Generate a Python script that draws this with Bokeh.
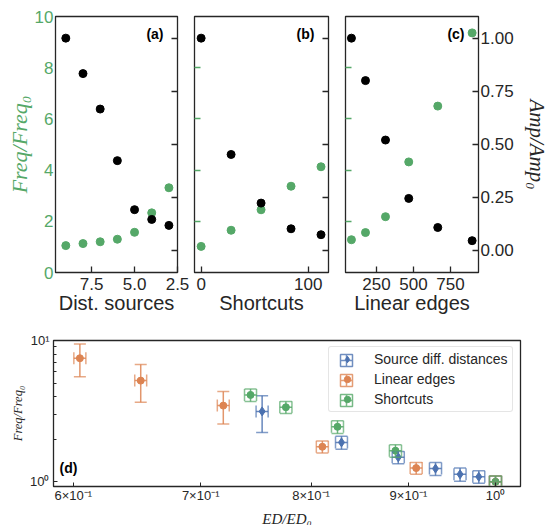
from bokeh.plotting import figure
from bokeh.models import (Range1d, LinearAxis, FixedTicker, Label, Whisker, TeeHead,
                          ColumnDataSource, Legend, LegendItem)
from bokeh.layouts import column, row
from bokeh.embed import file_html
from bokeh.resources import INLINE

# ---------------- data ----------------
dist_sources = [9, 8, 7, 6, 5, 4, 3]
dist_freq = [1.05, 1.13, 1.20, 1.30, 1.57, 2.33, 3.31]
dist_amp = [1.00, 0.833, 0.666, 0.423, 0.192, 0.146, 0.118]

shortcuts = [0, 28, 56, 84, 112]
short_freq = [1.02, 1.65, 2.45, 3.37, 4.13]
short_amp = [1.00, 0.452, 0.223, 0.102, 0.074]

linear_edges = [81, 176, 311, 468, 664, 896]
lin_freq = [1.28, 1.56, 2.18, 4.32, 6.50, 9.36]
lin_amp = [1.00, 0.80, 0.52, 0.245, 0.108, 0.046]

# panel (d): ED/ED0 vs Freq/Freq0 with errors
src_ed = [0.754, 0.830, 0.889, 0.930, 0.958, 0.980, 1.0]
src_fr = [3.15, 1.90, 1.49, 1.24, 1.13, 1.085, 1.0]
src_ed_err = [0.0055, 0.0060, 0.0065, 0.0068, 0.0070, 0.0071, 0.0073]
src_fr_err = [0.92, 0.20, 0.15, 0.13, 0.12, 0.11, 0.10]

lin_ed = [0.6048, 0.651, 0.7194, 0.811, 0.9085, 1.0]
lin_fr = [7.49, 5.20, 3.46, 1.77, 1.25, 1.0]
lin_ed_err = [0.0044, 0.0047, 0.0052, 0.0059, 0.0066, 0.0073]
lin_fr_err = [1.95, 1.55, 0.90, 0.17, 0.12, 0.10]

sc_ed = [0.7435, 0.776, 0.826, 0.886, 1.0]
sc_fr = [4.12, 3.37, 2.45, 1.66, 1.0]
sc_ed_err = [0.0054, 0.0057, 0.0060, 0.0065, 0.0073]
sc_fr_err = [0.42, 0.33, 0.25, 0.17, 0.10]

series_names = ["Source diff. distances", "Linear edges", "Shortcuts"]

d_xticks = [0.6, 0.7, 0.8, 0.9, 1]
d_xlabels = ["6\u00d710\u207b\u00b9", "7\u00d710\u207b\u00b9", "8\u00d710\u207b\u00b9",
             "9\u00d710\u207b\u00b9", "10\u2070"]
d_yticks = [1, 10]
d_ylabels = ["10\u2070", "10\u00b9"]
amp_ticks = [0, 0.25, 0.5, 0.75, 1]
amp_labels = ["0.00", "0.25", "0.50", "0.75", "1.00"]

GREEN = "#55a868"
BLUE = "#4c72b0"
ORANGE = "#dd8452"
SPINE = "#262626"
SANS = "Liberation Sans"
SERIF = "Liberation Serif"

NAN = float("nan")


def base_style(p):
    p.outline_line_color = SPINE
    p.outline_line_width = 1.3
    p.grid.visible = False
    p.background_fill_color = "white"
    p.border_fill_color = "white"


def top_panel(xr, xticks, xover, xlabel, fw, mbl, mbr, first=False, last=False, tag=""):
    p = figure(x_range=xr, y_range=Range1d(0, 10), frame_width=fw, frame_height=256,
               min_border_left=mbl, min_border_right=mbr, min_border_top=16,
               min_border_bottom=48, output_backend="svg", toolbar_location=None)
    base_style(p)
    p.extra_y_ranges = {"amp": Range1d(-0.104, 1.102)}
    # bottom axis
    xa = p.below[0]
    xa.ticker = FixedTicker(ticks=xticks)
    if xover:
        xa.major_label_overrides = xover
    xa.major_tick_in = 6
    xa.major_tick_out = 0
    xa.minor_tick_in = 0
    xa.minor_tick_out = 0
    xa.major_tick_line_color = SPINE
    xa.major_tick_line_width = 1.3
    xa.axis_line_color = SPINE
    xa.major_label_text_font = SANS
    xa.major_label_text_font_size = "17px"
    xa.major_label_text_color = SPINE
    xa.major_label_standoff = 5
    xa.axis_label = xlabel
    xa.axis_label_text_font = SANS
    xa.axis_label_text_font_style = "normal"
    xa.axis_label_text_font_size = "20px"
    xa.axis_label_text_color = SPINE
    xa.axis_label_standoff = -1
    # left axis (freq)
    ya = p.left[0]
    ya.axis_line_color = SPINE
    ya.minor_tick_in = 0
    ya.minor_tick_out = 0
    if first:
        ya.ticker = FixedTicker(ticks=[0, 2, 4, 6, 8, 10])
        ya.major_tick_in = 0
        ya.major_tick_out = 0
        ya.major_label_text_color = GREEN
        ya.major_label_text_font = SANS
        ya.major_label_text_font_size = "17px"
        ya.major_label_standoff = 2
        ya.axis_label = "Freq/Freq\u2080"
        ya.axis_label_text_font = SERIF
        ya.axis_label_text_font_style = "italic"
        ya.axis_label_text_font_size = "22px"
        ya.axis_label_text_color = GREEN
        ya.axis_label_standoff = 0
    else:
        ya.ticker = FixedTicker(ticks=[2, 4, 6, 8])
        ya.major_tick_in = 6
        ya.major_tick_out = 0
        ya.major_tick_line_color = GREEN
        ya.major_tick_line_width = 1.3
        ya.major_label_text_font_size = "0px"
        ya.major_label_standoff = 0
    # right axis (amp)
    ra = LinearAxis(y_range_name="amp", ticker=FixedTicker(ticks=amp_ticks))
    ra.major_tick_in = 6
    ra.major_tick_out = 0
    ra.minor_tick_in = 0
    ra.minor_tick_out = 0
    ra.major_tick_line_color = SPINE
    ra.major_tick_line_width = 1.3
    ra.axis_line_color = SPINE
    if last:
        ra.major_label_overrides = dict(zip(amp_ticks, amp_labels))
        ra.major_label_text_font = SANS
        ra.major_label_text_font_size = "17px"
        ra.major_label_text_color = SPINE
        ra.major_label_standoff = 2
        ra.axis_label = "Amp/Amp\u2080"
        ra.axis_label_text_font = SERIF
        ra.axis_label_text_font_style = "italic"
        ra.axis_label_text_font_size = "21px"
        ra.axis_label_text_color = SPINE
        ra.axis_label_standoff = 8
    else:
        ra.major_label_text_font_size = "0px"
        ra.major_label_standoff = 0
    p.add_layout(ra, "right")
    p.add_layout(Label(x=xr.end, y=10, x_offset=-14, y_offset=-17, text=tag,
                       text_align="right", text_baseline="middle",
                       text_font=SANS, text_font_style="bold",
                       text_font_size="14px", text_color="black"))
    return p


pa = top_panel(Range1d(9.6, 2.5), [7.5, 5, 2.5], {7.5: "7.5", 5: "5.0", 2.5: "2.5"},
               "Dist. sources", 122, 55, 12, first=True, tag="(a)")
pa.scatter(dist_sources, dist_freq, size=8, color=GREEN)
pa.scatter(dist_sources, dist_amp, size=8, color="black", y_range_name="amp")

pb = top_panel(Range1d(-6.2, 119), [0, 100], None, "Shortcuts", 134, 5, 8, tag="(b)")
pb.scatter(shortcuts, short_freq, size=8, color=GREEN)
pb.scatter(shortcuts, short_amp, size=8, color="black", y_range_name="amp")

pc = top_panel(Range1d(41, 939), [250, 500, 750], None, "Linear edges", 133, 9, 78,
               last=True, tag="(c)")
pc.scatter(linear_edges, lin_freq, size=8, color=GREEN)
pc.scatter(linear_edges, lin_amp, size=8, color="black", y_range_name="amp")

# ---------------- panel (d) ----------------
pd = figure(x_axis_type="log", y_axis_type="log",
            x_range=Range1d(0.5858, 1.0307), y_range=Range1d(0.926, 10.0),
            frame_width=467, frame_height=146, min_border_left=53, min_border_right=36,
            min_border_top=20, min_border_bottom=39,
            output_backend="svg", toolbar_location=None)
base_style(pd)
xa = pd.below[0]
xa.ticker = FixedTicker(ticks=d_xticks, minor_ticks=[])
xa.major_label_overrides = dict(zip(d_xticks, d_xlabels))
ya = pd.left[0]
ya.ticker = FixedTicker(ticks=d_yticks, minor_ticks=[2, 3, 4, 5, 6, 7, 8, 9])
ya.major_label_overrides = dict(zip(d_yticks, d_ylabels))
for ax in (xa, ya):
    ax.major_tick_in = 4
    ax.major_tick_out = 0
    ax.minor_tick_in = 3
    ax.minor_tick_out = 0
    ax.major_tick_line_color = SPINE
    ax.minor_tick_line_color = SPINE
    ax.axis_line_color = SPINE
    ax.major_label_text_font = SANS
    ax.major_label_text_font_size = "13px"
    ax.major_label_text_color = SPINE
    ax.axis_label_text_font = SERIF
    ax.axis_label_text_font_style = "italic"
    ax.axis_label_text_color = SPINE
xa.major_label_standoff = 1
xa.axis_label_standoff = 5
xa.axis_label_text_font_size = "15px"
ya.major_label_standoff = 4
ya.axis_label_standoff = 2
ya.axis_label_text_font_size = "12.5px"
xa.axis_label = "ED/ED\u2080"
ya.axis_label = "Freq/Freq\u2080"

series = [
    (src_ed, src_fr, src_ed_err, src_fr_err, BLUE, "diamond", 9),
    (lin_ed, lin_fr, lin_ed_err, lin_fr_err, ORANGE, "circle", 7),
    (sc_ed, sc_fr, sc_ed_err, sc_fr_err, GREEN, "circle", 7),
]
pt_renderers = []
sq_renderers = []
for ed, fr, ede, fre, col, mk, sz in series:
    src = ColumnDataSource(dict(
        x=ed, y=fr,
        xl=[a - b for a, b in zip(ed, ede)], xu=[a + b for a, b in zip(ed, ede)],
        yl=[a - b for a, b in zip(fr, fre)], yu=[a + b for a, b in zip(fr, fre)]))
    for dim, base, lo, up in (("height", "x", "yl", "yu"), ("width", "y", "xl", "xu")):
        w = Whisker(source=src, base=base, lower=lo, upper=up, dimension=dim,
                    line_color=col, line_width=1.5, line_alpha=0.85, level="glyph",
                    lower_head=TeeHead(size=12, line_color=col, line_width=1.5, line_alpha=0.7),
                    upper_head=TeeHead(size=12, line_color=col, line_width=1.5, line_alpha=0.7))
        pd.add_layout(w)
    r = pd.scatter("x", "y", source=src, marker=mk, size=sz, color=col)
    pt_renderers.append(r)
    # legend-only glyph (error-bar icon), no visible data
    d = pd.scatter(x=[NAN], y=[NAN], marker="square_cross", size=12, fill_color=None,
                   line_color=col, line_width=1.5, line_alpha=0.8)
    sq_renderers.append(d)

# legend box with labels and point markers
leg_b = Legend(items=[LegendItem(label=n, renderers=[r]) for n, r in zip(series_names, pt_renderers)],
               location=(275, 74), padding=4, spacing=4, glyph_width=28, glyph_height=16,
               label_height=16, label_standoff=13, label_text_font=SANS,
               label_text_font_size="14px", label_text_color=SPINE,
               border_line_color="#cccccc", border_line_width=1, border_radius=3,
               background_fill_alpha=0.85)
pd.add_layout(leg_b, "center")
# error-bar icons overlaid on the legend glyphs, one per row
for i, r in enumerate(sq_renderers):
    leg_a = Legend(items=[LegendItem(label=" ", renderers=[r])],
                   location=(278, 111 - 20 * i), padding=0, spacing=0,
                   glyph_width=30, glyph_height=30, label_height=30, label_standoff=0,
                   label_text_font_size="1px", border_line_color=None,
                   background_fill_alpha=0)
    pd.add_layout(leg_a, "center")

pd.add_layout(Label(x=0.5858, y=0.926, x_offset=6, y_offset=19, text="(d)",
                    text_align="left", text_baseline="middle", text_font=SANS,
                    text_font_style="bold", text_font_size="14px", text_color="black"))

layout = column(row(pa, pb, pc), pd)
open("out.html", "w").write(file_html(layout, INLINE))
